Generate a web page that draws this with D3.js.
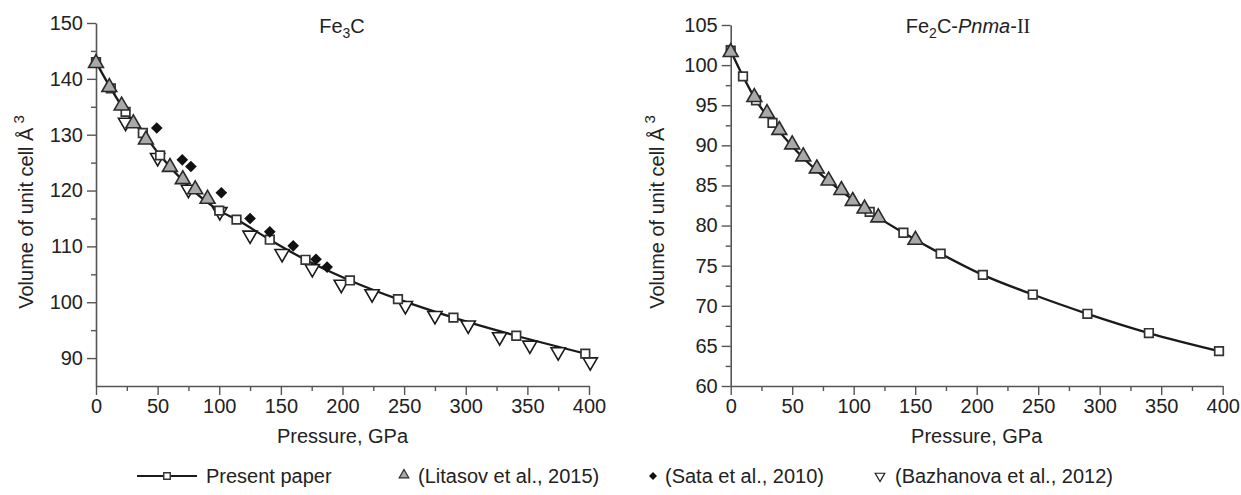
<!DOCTYPE html>
<html>
<head>
<meta charset="utf-8">
<title>Fe3C and Fe2C volume vs pressure</title>
<script src="https://d3js.org/d3.v7.min.js"></script>
<style>
  body { margin: 0; background: #fff; }
  text { font-family: "Liberation Sans", Arial, sans-serif; fill: #222; }
</style>
</head>
<body>
<div id="chart"></div>
<script>
// ---- data (pressure GPa, volume A^3) ----
var pressureMajor = [0, 50, 100, 150, 200, 250, 300, 350, 400]
var pressureMinor = [25, 75, 125, 175, 225, 275, 325, 375]

// Fe3C panel
var fe3cPresent = [[0,143.0],[12,138.3],[24,134.1],[38,130.3],[52,126.3],[100,116.4],[114,114.8],
                   [141,111.2],[170,107.6],[206,103.9],[245,100.55],[290,97.25],[341,94.0],[397,90.8]]
var fe3cLitasov = [[0,142.8],[10.8,138.5],[20.8,135.2],[30.3,132.0],[40.5,129.1],[60,124.2],
                   [70.4,122.0],[80.5,120.2],[90.5,118.5]]
var fe3cSata = [[49.3,131.2],[70,125.5],[77,124.3],[101.7,119.6],[125,115.0],[141,112.6],
                [160,110.1],[178.5,107.7],[187.5,106.3]]
var fe3cBazhanova = [[24,132.2],[50,125.9],[75,120.2],[100.5,116.2],[125,112.0],[151,108.7],
                     [175.5,106.0],[199,103.2],[224,101.5],[251,99.4],[275,97.6],[302,95.9],
                     [327.5,93.8],[352,92.3],[375,91.1],[401,89.3]]
var fe3cYMajor = [90, 100, 110, 120, 130, 140, 150]
var fe3cYMinor = [95, 105, 115, 125, 135, 145]

// Fe2C-Pnma-II panel
var fe2cPresent = [[0,101.8],[10,98.6],[20.6,95.6],[34,92.8],[113,81.7],[140.4,79.1],[170.7,76.5],
                   [205,73.85],[245.6,71.4],[290,69.0],[340,66.6],[397,64.35]]
var fe2cLitasov = [[0,101.6],[19.2,96.0],[29.5,94.0],[39.5,91.9],[50,90.1],[59,88.6],[70,87.1],
                   [79.6,85.6],[90,84.4],[99.2,83.05],[108.8,82.1],[120,81.0],[150.2,78.2]]
var fe2cYMajor = [60, 65, 70, 75, 80, 85, 90, 95, 100, 105]
var fe2cYMinor = [62.5, 67.5, 72.5, 77.5, 82.5, 87.5, 92.5, 97.5, 102.5]

var legendLabels = ["Present paper", "(Litasov et al., 2015)", "(Sata et al., 2010)", "(Bazhanova et al., 2012)"]

var width = 1241, height = 495
var svg = d3.select("#chart").append("svg")
    .attr("width", width)
    .attr("height", height)

var axisColor = "#555"
var fs = 20

function drawAxes(g, x, y, yMajor, yMinor) {
    // minor ticks first, then major ticks with labels
    var xMin = g.append("g").attr("transform", "translate(0," + y.range()[0] + ")")
        .call(d3.axisBottom(x).tickValues(pressureMinor).tickSize(5).tickFormat(""))
    var xMaj = g.append("g").attr("transform", "translate(0," + y.range()[0] + ")")
        .call(d3.axisBottom(x).tickValues(pressureMajor).tickSize(9).tickPadding(4).tickSizeOuter(0))
    var yMin = g.append("g").attr("transform", "translate(" + x.range()[0] + ",0)")
        .call(d3.axisLeft(y).tickValues(yMinor).tickSize(5).tickFormat(""))
    var yMaj = g.append("g").attr("transform", "translate(" + x.range()[0] + ",0)")
        .call(d3.axisLeft(y).tickValues(yMajor).tickSize(9).tickPadding(4).tickSizeOuter(0))
    ;[xMin, xMaj, yMin, yMaj].forEach(function(a) {
        a.select(".domain").attr("stroke", axisColor).attr("stroke-width", 1.6)
        a.selectAll(".tick line").attr("stroke", axisColor).attr("stroke-width", 1.4)
        a.selectAll(".tick text").style("font-size", fs + "px").attr("fill", "#222")
            .style("font-family", "Liberation Sans, Arial, sans-serif")
    })
    xMin.select(".domain").remove()
    yMin.select(".domain").remove()
}

function triUp(s) { return d3.symbol().type(d3.symbolTriangle).size(s)() }
function sq(s) { return d3.symbol().type(d3.symbolSquare).size(s)() }

function drawPanel(opt) {
    var g = svg.append("g")
    var x = d3.scaleLinear().domain([0, 400]).range(opt.xRange)
    var y = d3.scaleLinear().domain(opt.yDomain).range([386, opt.yTop])
    drawAxes(g, x, y, opt.yMajor, opt.yMinor)

    var line = d3.line()
        .x(function(d) { return x(d[0]) })
        .y(function(d) { return y(d[1]) })
        .curve(d3.curveMonotoneX)
    g.append("path").datum(opt.present)
        .attr("d", line)
        .attr("fill", "none")
        .attr("stroke", "#1a1a1a")
        .attr("stroke-width", 2.3)

    if (opt.bazhanova) {
        g.selectAll(".baz").data(opt.bazhanova).enter().append("path")
            .attr("d", triUp(88))
            .attr("transform", function(d) { return "translate(" + x(d[0]) + "," + y(d[1]) + ") rotate(180)" })
            .attr("fill", "#fff").attr("stroke", "#1a1a1a").attr("stroke-width", 1.6)
    }
    g.selectAll(".pres").data(opt.present).enter().append("path")
        .attr("d", sq(74))
        .attr("transform", function(d) { return "translate(" + x(d[0]) + "," + y(d[1]) + ")" })
        .attr("fill", "#fff").attr("stroke", "#333").attr("stroke-width", 1.7)
    g.selectAll(".lit").data(opt.litasov).enter().append("path")
        .attr("d", triUp(96))
        .attr("transform", function(d) { return "translate(" + x(d[0]) + "," + y(d[1]) + ")" })
        .attr("fill", "#a9a9a9").attr("stroke", "#2a2a2a").attr("stroke-width", 1.6)
    if (opt.sata) {
        g.selectAll(".sata").data(opt.sata).enter().append("path")
            .attr("d", sq(68))
            .attr("transform", function(d) { return "translate(" + x(d[0]) + "," + y(d[1]) + ") rotate(45)" })
            .attr("fill", "#111")
    }

    // axis titles
    var xc = (opt.xRange[0] + opt.xRange[1]) / 2
    g.append("text").attr("x", xc).attr("y", 443)
        .attr("text-anchor", "middle").style("font-size", fs + "px")
        .text("Pressure, GPa")
    var yl = g.append("text")
        .attr("transform", "translate(" + opt.yLabelX + ",212) rotate(-90)")
        .attr("text-anchor", "middle").style("font-size", fs + "px")
    yl.append("tspan").text("Volume of unit cell \u00C5")
    yl.append("tspan").attr("dx", 4).attr("dy", -9).style("font-size", "15px").text("3")

    // panel title
    var t = g.append("text").attr("x", opt.titleX).attr("y", 33)
        .attr("text-anchor", "middle").style("font-size", fs + "px")
    opt.title(t)
}

drawPanel({
    xRange: [96, 589], yDomain: [85, 150], yTop: 23,
    yMajor: fe3cYMajor, yMinor: fe3cYMinor,
    present: fe3cPresent, litasov: fe3cLitasov, sata: fe3cSata, bazhanova: fe3cBazhanova,
    yLabelX: 33, titleX: 342,
    title: function(t) {
        t.append("tspan").text("Fe")
        t.append("tspan").attr("dy", 5).style("font-size", "14px").text("3")
        t.append("tspan").attr("dy", -5).text("C")
    }
})
drawPanel({
    xRange: [730.7, 1222.7], yDomain: [60, 105], yTop: 25,
    yMajor: fe2cYMajor, yMinor: fe2cYMinor,
    present: fe2cPresent, litasov: fe2cLitasov,
    yLabelX: 664, titleX: 968,
    title: function(t) {
        t.append("tspan").text("Fe")
        t.append("tspan").attr("dy", 5).style("font-size", "14px").text("2")
        t.append("tspan").attr("dy", -5).text("C-")
        t.append("tspan").style("font-style", "italic").text("Pnma")
        t.append("tspan").text("-")
        t.append("tspan").style("font-family", "Liberation Serif, Times New Roman, serif").text("II")
    }
})

// ---- legend ----
var lg = svg.append("g").attr("transform", "translate(0,476)")
lg.append("line").attr("x1", 137).attr("x2", 197).attr("y1", 0).attr("y2", 0)
    .attr("stroke", "#1a1a1a").attr("stroke-width", 2)
lg.append("path").attr("d", sq(42)).attr("transform", "translate(167,0)")
    .attr("fill", "#fff").attr("stroke", "#333").attr("stroke-width", 1.4)
lg.append("path").attr("d", triUp(40)).attr("transform", "translate(404,-1)")
    .attr("fill", "#a9a9a9").attr("stroke", "#2a2a2a").attr("stroke-width", 1.2)
lg.append("path").attr("d", sq(32)).attr("transform", "translate(653,0) rotate(45)")
    .attr("fill", "#111")
lg.append("path").attr("d", triUp(40)).attr("transform", "translate(880,0) rotate(180)")
    .attr("fill", "#fff").attr("stroke", "#1a1a1a").attr("stroke-width", 1.2)
var legendX = [206, 418, 665, 895]
lg.selectAll(".lt").data(legendLabels).enter().append("text")
    .attr("x", function(d, i) { return legendX[i] })
    .attr("y", 7)
    .style("font-size", fs + "px")
    .text(function(d) { return d })
</script>
</body>
</html>
